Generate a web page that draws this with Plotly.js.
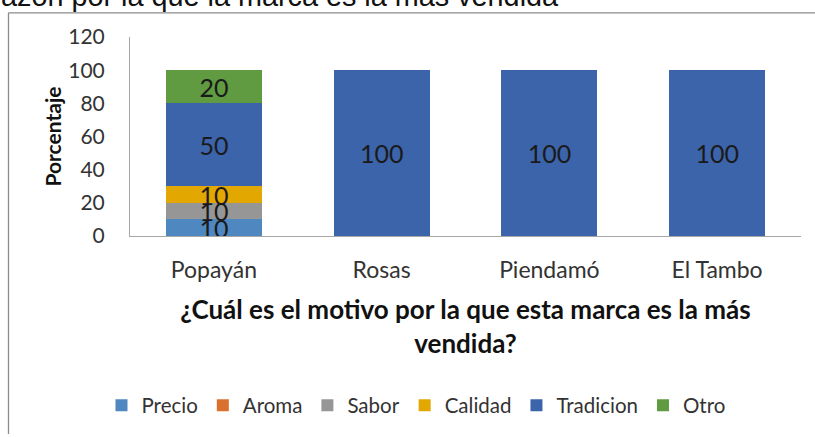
<!DOCTYPE html>
<html>
<head>
<meta charset="utf-8">
<script src="https://cdn.plot.ly/plotly-3.0.1.min.js"></script>
<style>html,body{margin:0;padding:0;background:#fff;}#chart{width:815px;height:437px;}</style>
</head>
<body>
<div id="chart"></div>
<script>
const categories = ["Popayán", "Rosas", "Piendamó", "El Tambo"];
const precio    = [10, 0, 0, 0];
const aroma     = [0, 0, 0, 0];
const sabor     = [10, 0, 0, 0];
const calidad   = [10, 0, 0, 0];
const tradicion = [50, 100, 100, 100];
const otro      = [20, 0, 0, 0];
const seriesNames = ["Precio", "Aroma", "Sabor", "Calidad", "Tradicion", "Otro"];
const yTicks = [0, 20, 40, 60, 80, 100, 120];
const chartTitle = "azón por la que la marca es la más vendida";
const xTitle = "¿Cuál es el motivo por la que esta marca es la más<br>vendida?";
const yTitle = "Porcentaje";

const seriesValues = [precio, aroma, sabor, calidad, tradicion, otro];
const colors = ["#4F87C0", "#D9702D", "#969696", "#E2A700", "#3C64AB", "#609B41"];

const FONT = "Lato, 'Open Sans', sans-serif";

const traces = seriesValues.map((vals, i) => ({
  type: "bar",
  name: seriesNames[i],
  x: categories,
  y: vals,
  marker: {color: colors[i], line: {width: 0}},
  text: vals.map(v => v > 0 ? String(v) : ""),
  textposition: "inside",
  insidetextanchor: "middle",
  textangle: 0,
  constraintext: "none",
  textfont: {family: FONT, size: 25, color: "#1a1a1a"},
  hoverinfo: "skip"
}));

// pixel helpers for paper coordinates
const L = 130, R = 14, T = 37, B = 198, W = 815, H = 437;
const pw = W - L - R, ph = H - T - B;
const px = p => (p - L) / pw;
const py = p => (H - B - p) / ph;

const layout = {
  width: W, height: H,
  margin: {l: L, r: R, t: T, b: B, pad: 0},
  paper_bgcolor: "#ffffff",
  plot_bgcolor: "#ffffff",
  barmode: "stack",
  bargap: 0.428,
  showlegend: true,
  font: {family: FONT, color: "#333333"},
  xaxis: {
    type: "category",
    showline: true, linecolor: "#a6a6a6", linewidth: 1,
    showgrid: false, zeroline: false, ticks: "",
    ticklabelstandoff: 13,
    tickfont: {family: FONT, size: 23, color: "#333333"},
    title: {text: xTitle, standoff: 19, font: {family: FONT, size: 26, color: "#111111", weight: "bold"}},
    automargin: false
  },
  yaxis: {
    range: [0, 120],
    tickvals: yTicks,
    ticktext: yTicks.map(String),
    showline: true, linecolor: "#a6a6a6", linewidth: 1,
    showgrid: false, zeroline: false, ticks: "",
    ticklabelstandoff: 20,
    tickfont: {family: FONT, size: 21, color: "#333333"},
    title: {text: yTitle, standoff: 0, font: {family: FONT, size: 21, color: "#111111", weight: "bold"}},
    automargin: false
  },
  legend: {
    orientation: "h",
    x: px(416), xanchor: "center",
    y: py(411), yanchor: "middle",
    font: {family: FONT, size: 20.5, color: "#333333"},
    traceorder: "normal",
    itemclick: false
  },
  annotations: [{
    text: chartTitle,
    xref: "paper", yref: "paper",
    x: px(-1), xanchor: "left",
    y: py(-22.5), yanchor: "top",
    showarrow: false,
    font: {family: "'Liberation Sans', Arial, sans-serif", size: 28.8, color: "#111111"}
  }],
  shapes: [
    {type: "line", xref: "paper", yref: "paper", x0: px(8.5), x1: px(8.5), y0: py(12.5), y1: py(440), line: {color: "#8c8c8c", width: 1.3}},
    {type: "line", xref: "paper", yref: "paper", x0: px(8.5), x1: px(820), y0: py(12.5), y1: py(12.5), line: {color: "#8c8c8c", width: 1.3}}
  ]
};

Plotly.newPlot("chart", traces, layout, {displayModeBar: false, staticPlot: true});
</script>
</body>
</html>
